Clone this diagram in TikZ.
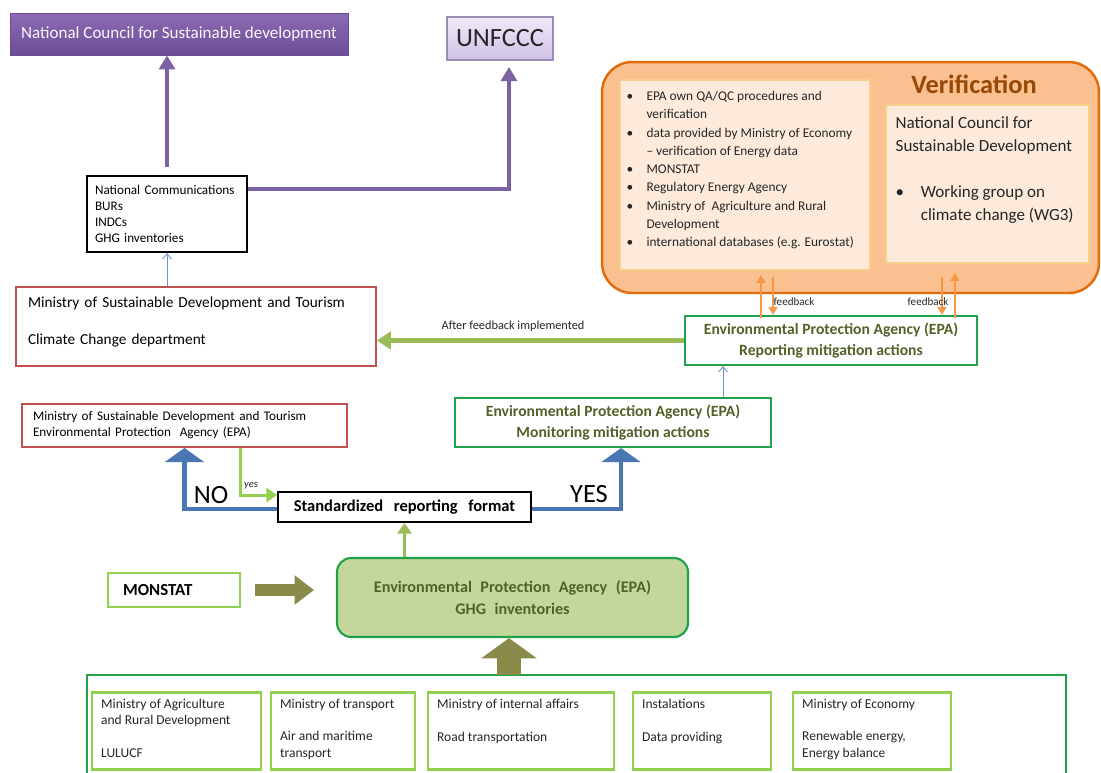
\documentclass[tikz,border=0pt]{standalone}
\usepackage{fontspec}
\setmainfont{Carlito}
\usetikzlibrary{arrows.meta,calc}
\definecolor{purpT}{HTML}{8B6BB3}
\definecolor{purpB}{HTML}{6C4E97}
\definecolor{purpline}{HTML}{7A62A3}
\definecolor{unT}{HTML}{F0EAF8}
\definecolor{unB}{HTML}{CFC1E5}
\definecolor{unD}{HTML}{9A8AB5}
\definecolor{redb}{HTML}{C0504D}
\definecolor{greenb}{HTML}{1FA24A}
\definecolor{olivet}{HTML}{4F6228}
\definecolor{lgreen}{HTML}{92D050}
\definecolor{agreen}{HTML}{9BBB59}
\definecolor{blueA}{HTML}{4A77B4}
\definecolor{thinblue}{HTML}{6E93C4}
\definecolor{orfill}{HTML}{FAC090}
\definecolor{orline}{HTML}{E46C0A}
\definecolor{orin}{HTML}{FDEADA}
\definecolor{orinb}{HTML}{F8CF8A}
\definecolor{vbrown}{HTML}{984807}
\definecolor{farrow}{HTML}{F79646}
\definecolor{olivearr}{HTML}{8A8A4A}
\definecolor{ghgfill}{HTML}{C3D69B}
\begin{document}
\begin{tikzpicture}[x=0.02cm,y=-0.02cm,
  redbox/.style={draw=redb, line width=1.1pt, fill=white, inner sep=0},
  epabox/.style={draw=greenb, line width=1.2pt, fill=white, minimum height=0.98cm, inner sep=0,
     align=center, text=olivet, font=\fontsize{8.9}{11.9}\selectfont\bfseries},
  sbox/.style={draw=lgreen, line width=1.4pt, fill=white, minimum height=1.54cm, inner sep=0},
  btxt/.style={anchor=north west, align=left, inner sep=0, font=\fontsize{7.7}{9.25}\selectfont, text=black!85},
  purparrow/.style={draw=purpline, line width=2.3pt, -{Triangle[length=8pt,width=9pt]}},
  thinarrow/.style={draw=thinblue, line width=0.5pt, -{Straight Barb[length=3pt,width=5pt]}},
  bluearrow/.style={draw=blueA, line width=2.8pt, -{Triangle[length=8pt,width=22pt]}},
  fbarrow/.style={draw=farrow, line width=1.1pt, -{Triangle[length=4.5pt,width=5pt]}},
  bigarrow/.style={draw=olivearr, -{Triangle[length=11pt,width=16pt]}},
  lbl/.style={inner sep=0, font=\fontsize{6.3}{7}\selectfont, text=black!85}
]
\useasboundingbox (0,0) rectangle (1101,772);
\clip (0,0) rectangle (1101,772);
\fill[white] (0,0) rectangle (1101,772);

% top purple boxes
\node[draw=purpB, top color=purpT, bottom color=purpB, minimum width=6.76cm, minimum height=0.84cm,
  inner sep=0, text=white!95!purpT, font=\fontsize{9.7}{11}\selectfont] (ncsd) at (179,34) {National Council for Sustainable development};
\node[draw=unD, line width=0.6pt, top color=unT, bottom color=unB, minimum width=2.12cm, minimum height=0.86cm,
  inner sep=0, text=black!85, font=\fontsize{15}{16}\selectfont] (unfccc) at (500,38.5) {UNFCCC};

% National communications
\node[draw=black, line width=1.2pt, fill=white, minimum width=3.2cm, minimum height=1.52cm, inner xsep=0.16cm, inner ysep=0,
  text width=2.88cm, align=left, font=\fontsize{7.5}{9.2}\selectfont] (natcom) at (167,214)
  {National Communications\\BURs\\INDCs\\GHG inventories};
\coordinate (u1) at (509,67);
\draw[purparrow] ([yshift=0.16cm]natcom.north) -- (natcom.north |- ncsd.south);
\draw[purparrow] ([yshift=0.5cm]natcom.east) -| (u1);

% Ministry climate change
\node[redbox, minimum width=7.2cm, minimum height=1.58cm, inner xsep=0.24cm, text width=6.72cm, align=left,
  font=\fontsize{8.7}{9.8}\selectfont] (mincc) at (196,326.5)
  {Ministry of Sustainable Development and Tourism\\[11pt]Climate Change department\\[-3pt]\mbox{}};
\draw[thinarrow] (mincc.north -| natcom.south) -- (natcom.south);

% Verification
\node[draw=orline, line width=1.4pt, fill=orfill, rounded corners=0.6cm, minimum width=9.94cm, minimum height=4.62cm] (verif) at (850.5,177.5) {};
\node[draw=orinb, line width=0.8pt, fill=orin, minimum width=5cm, minimum height=3.8cm, inner sep=0] (verL) at (745,175) {};
\node[draw=orinb, line width=0.8pt, fill=orin, minimum width=4.06cm, minimum height=3.16cm, inner sep=0] (verR) at (987.5,184) {};
\node[inner sep=0, text=vbrown, font=\fontsize{15}{16}\selectfont\bfseries] (vtitle) at (974,84) {Verification};
\node[anchor=north west, inner sep=0, font=\fontsize{7.6}{10.4}\selectfont, text=black!85] (verLt) at ($(verL.north west)+(7,8)$) {%
\begin{tabular}{@{}l@{\hspace{7.5pt}}l@{}}
\textbullet & EPA own QA/QC procedures and\\
 & verification\\
\textbullet & data provided by Ministry of Economy\\
 & – verification of Energy data\\
\textbullet & MONSTAT\\
\textbullet & Regulatory Energy Agency\\
\textbullet & Ministry of \ Agriculture and Rural\\
 & Development\\
\textbullet & international databases (e.g. Eurostat)
\end{tabular}};
\node[anchor=north west, inner sep=0, font=\fontsize{9.7}{13}\selectfont, text=black!85] (verRt) at ($(verR.north west)+(10,8)$) {%
\begin{tabular}{@{}l@{\hspace{9.5pt}}l@{}}
\multicolumn{2}{@{}l@{}}{National Council for}\\
\multicolumn{2}{@{}l@{}}{Sustainable Development}\\[13pt]
\textbullet & Working group on\\
 & climate change (WG3)
\end{tabular}};

% EPA reporting / monitoring
\node[epabox, minimum width=5.84cm] (epaRep) at (831,340.5) {Environmental Protection Agency (EPA)\\Reporting mitigation actions};
\node[epabox, minimum width=6.32cm] (epaMon) at (613,422.5) {Environmental Protection Agency (EPA)\\Monitoring mitigation actions};
\coordinate (m1) at (723,0);
\draw[thinarrow] (epaMon.north -| m1) -- (epaRep.south -| m1);

% feedback arrows
\coordinate (fa) at (761,275);
\coordinate (fb) at (773,277);
\coordinate (fc) at (942,277);
\coordinate (fd) at (955,273);
\draw[fbarrow] ([yshift=-0.06cm]epaRep.north -| fa) -- (fa);
\draw[fbarrow] (fb) -- (epaRep.north -| fb);
\draw[fbarrow] (fc) -- (epaRep.north -| fc);
\draw[fbarrow] ([yshift=-0.06cm]epaRep.north -| fd) -- (fd);
\node[lbl] (fbl1) at (794,302) {feedback};
\node[lbl] (fbl2) at (928,302) {feedback};

% after feedback
\draw[draw=agreen, line width=2.3pt, -{Triangle[length=8pt,width=10pt]}] (epaRep.west) -- (epaRep.west -| mincc.east);
\node[lbl, font=\fontsize{7}{8}\selectfont] (afl) at (513,326) {After feedback implemented};

% small ministry box
\node[redbox, minimum width=6.5cm, minimum height=0.86cm, inner xsep=0.22cm, text width=6.06cm, align=left,
  font=\fontsize{7.5}{9.1}\selectfont] (minepa) at (184.5,425.5)
  {Ministry of Sustainable Development and Tourism\\Environmental Protection \ Agency (EPA)};

% standardized
\node[draw=black, line width=1.2pt, fill=white, minimum width=5.06cm, minimum height=0.6cm, inner sep=0,
  font=\fontsize{9.4}{10}\selectfont\bfseries] (srf) at (404.5,507) {\spaceskip=6pt Standardized reporting format};
\draw[bluearrow] ([yshift=-0.04cm]srf.west) -| (minepa.south);
\draw[bluearrow] ([yshift=-0.04cm]srf.east) -| ([xshift=0.16cm]epaMon.south);
\node[inner sep=0, font=\fontsize{15}{16}\selectfont] (nol) at (211,495) {NO};
\node[inner sep=0, font=\fontsize{15}{16}\selectfont] (yesl) at (589,494) {YES};
\draw[draw=lgreen, line width=1.7pt, -{Triangle[length=6pt,width=8pt]}] ([xshift=1.13cm]minepa.south) |- ([yshift=0.24cm]srf.west);
\node[lbl, font=\fontsize{6}{7}\selectfont\itshape] (yesi) at (251,486) {yes};

% EPA GHG
\node[draw=greenb, line width=1.2pt, fill=ghgfill, rounded corners=0.28cm, minimum width=7.02cm, minimum height=1.58cm,
  inner sep=0, align=center, text=olivet, font=\fontsize{9.2}{12.5}\selectfont\bfseries] (epaGHG) at (512.5,597.5)
  {\spaceskip=4.8pt Environmental Protection Agency (EPA)\\\spaceskip=4.8pt GHG inventories};
\draw[draw=agreen, line width=1.7pt, -{Triangle[length=6pt,width=8pt]}] (srf.south |- epaGHG.north) -- (srf.south);

% MONSTAT
\node[draw=lgreen, line width=1.4pt, fill=white, minimum width=2.64cm, minimum height=0.68cm, inner xsep=0.3cm,
  text width=2.04cm, align=left, font=\fontsize{9.6}{10}\selectfont\bfseries] (monstat) at (174,590) {MONSTAT};
\coordinate (ma) at (255,590);
\coordinate (mb) at (314,590);
\draw[bigarrow, line width=6.8pt] (ma) -- (mb);

% bottom container
\draw[greenb, line width=1.2pt] (87,790) -- (87,675) coordinate (cont) -- (1066,675) -- (1066,790);
\coordinate (ba) at (509,675);
\draw[draw=olivearr, line width=14.2pt, -{Triangle[length=11.5pt,width=31pt]}] (ba) -- (ba |- epaGHG.south);

\node[sbox, minimum width=3.38cm] (b1) at (176.5,731) {};
\node[sbox, minimum width=2.88cm] (b2) at (343,731) {};
\node[sbox, minimum width=3.72cm] (b3) at (521,731) {};
\node[sbox, minimum width=2.76cm] (b4) at (702,731) {};
\node[sbox, minimum width=3.16cm] (b5) at (872,731) {};
\node[btxt] (b1t) at ($(b1.north west)+(10,7.5)$) {Ministry of Agriculture\\and Rural Development\\[9.25pt]LULUCF};
\node[btxt] (b2t) at ($(b2.north west)+(10,7.5)$) {Ministry of transport\\[9.25pt]Air and maritime\\transport};
\node[btxt] (b3t) at ($(b3.north west)+(10,7.5)$) {Ministry of internal affairs\\[9.25pt]Road transportation};
\node[btxt] (b4t) at ($(b4.north west)+(10,7.5)$) {Instalations\\[9.25pt]Data providing};
\node[btxt] (b5t) at ($(b5.north west)+(10,7.5)$) {Ministry of Economy\\[9.25pt]Renewable energy,\\Energy balance};
\end{tikzpicture}
\end{document}
